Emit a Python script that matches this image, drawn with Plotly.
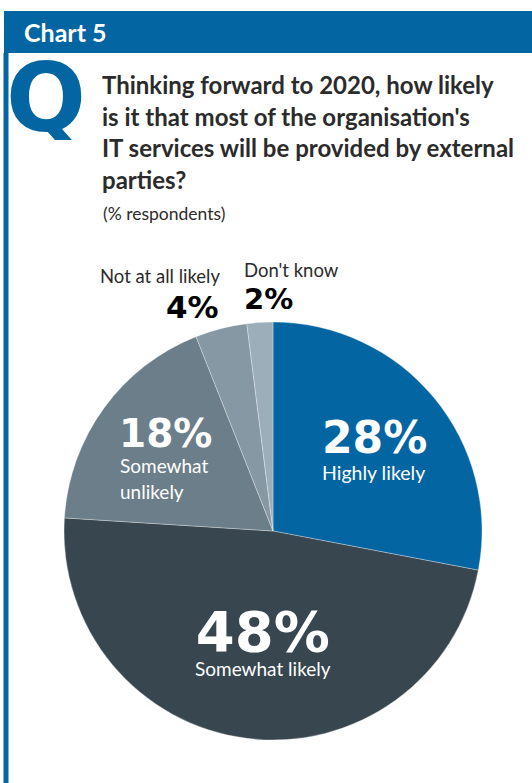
import plotly.graph_objects as go

W, H = 532, 783

# Survey answers, clockwise from 12 o'clock
categories = ["Highly likely", "Somewhat likely", "Somewhat unlikely",
              "Not at all likely", "Don't know"]
values = [28, 48, 18, 4, 2]
colors = ["#0465a3", "#37464f", "#6b7e89", "#8698a4", "#9daebb"]

title_tag = "Chart 5"
question_lines = [
    "Thinking forward to 2020, how likely",
    "is it that most of the organisation's",
    "IT services will be provided by external",
    "parties?",
]
subtitle = "(% respondents)"

BLUE = "#0465a3"
TEXT = "#2b2b2b"
FONT = "Lato"
NUM_FONT = "DejaVu Sans"


def px(x):
    return x / W


def py(y):
    return 1 - y / H


fig = go.Figure()

# Pie occupies a square box in pixel space
cx, cy, r = 273, 531, 209
fig.add_trace(go.Pie(
    labels=categories,
    values=values,
    sort=False,
    direction="clockwise",
    rotation=0,
    marker=dict(colors=colors, line=dict(color="rgba(255,255,255,0.45)", width=0.7)),
    textinfo="none",
    hoverinfo="label+percent",
    showlegend=False,
    domain=dict(x=[px(cx - r), px(cx + r)], y=[py(cy + r), py(cy - r)]),
))

shapes = [
    # header band
    dict(type="rect", xref="paper", yref="paper", x0=px(4), x1=px(W), y0=py(53), y1=py(11),
         fillcolor=BLUE, line=dict(width=0), layer="above"),
    # left rule
    dict(type="rect", xref="paper", yref="paper", x0=px(3.5), x1=px(8.5), y0=py(H), y1=py(53),
         fillcolor=BLUE, line=dict(width=0), layer="above"),
]

ann = []


def text(x, y, s, size, color, bold=False, xanchor="left", family=FONT, height=None,
         yanchor="middle"):
    a = dict(
        x=px(x), y=py(y), xref="paper", yref="paper", text=f"<b>{s}</b>" if bold else s,
        showarrow=False, xanchor=xanchor, yanchor=yanchor,
        font=dict(family=family, size=size, color=color),
    )
    if height:
        a["height"] = height
    ann.append(a)


text(22, 32, title_tag, 25, "white", bold=True)
text(4, 98, "Q", 94, BLUE, bold=True, family=NUM_FONT, height=84)

for i, line in enumerate(question_lines):
    text(100, 85 + i * 31.5, line, 24, TEXT, bold=True)
text(101, 213, subtitle, 17.5, TEXT)

# In-slice labels
vals = dict(zip(categories, values))
text(374, 437, f"{vals['Highly likely']}%", 44, "white", bold=True, xanchor="center",
     family=NUM_FONT, height=40)
text(373, 473, "Highly likely", 19.5, "white", xanchor="center")

text(117, 433, f"{vals['Somewhat unlikely']}%", 39, "white", bold=True, family=NUM_FONT,
     height=36)
text(118, 466, "Somewhat", 19, "white")
text(118, 491, "unlikely", 19, "white")

# Largest slice: percentage and caption set as one two-line block
big = (f"<span style='font-family:{NUM_FONT};font-size:56px'><b>{vals['Somewhat likely']}%</b></span>"
       f"<br>Somewhat likely")
text(263, 682, big, 19, "white", xanchor="center", yanchor="bottom")

# Small slices labelled above the pie
text(222, 276, "Not at all likely", 18.5, TEXT, xanchor="right")
text(221, 307, f"{vals['Not at all likely']}%", 31, "black", bold=True, xanchor="right",
     family=NUM_FONT, height=30)
text(242, 270, "Don't know", 18.5, TEXT)
text(242, 299, f"{vals[categories[4]]}%", 29, "black", bold=True, family=NUM_FONT,
     height=28)

fig.update_layout(
    width=W, height=H,
    margin=dict(l=0, r=0, t=0, b=0),
    paper_bgcolor="white",
    plot_bgcolor="white",
    shapes=shapes,
    annotations=ann,
)

fig.write_html("out.html")
